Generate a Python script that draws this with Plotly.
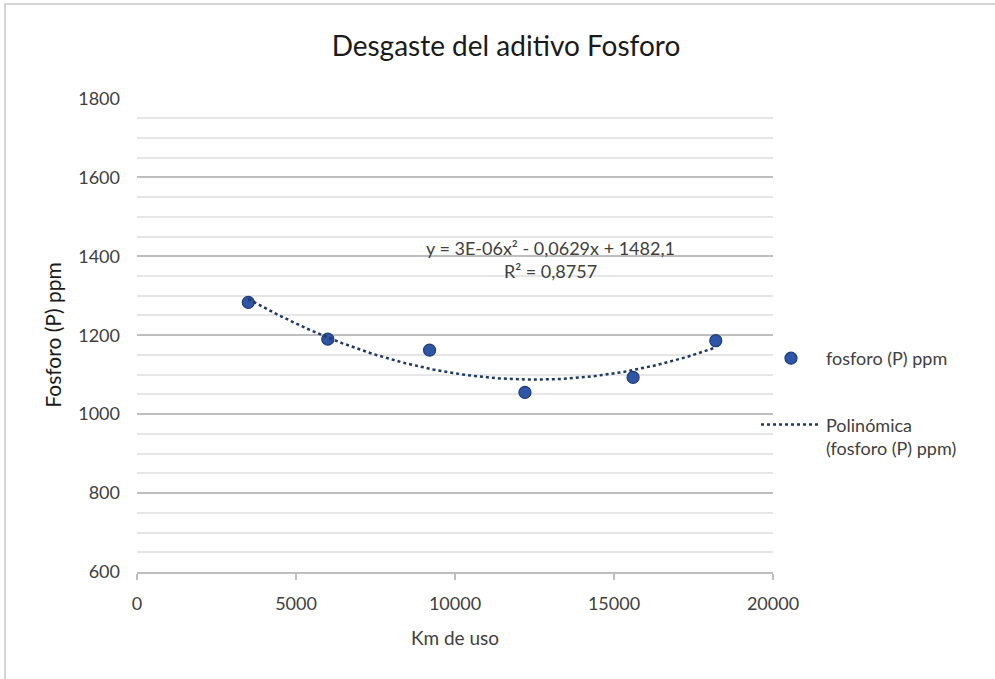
import numpy as np
import plotly.graph_objects as go

km = [3500, 6000, 9200, 12200, 15600, 18200]
fosforo = [1283, 1190, 1162, 1055, 1093, 1186]
series_name = "fosforo (P) ppm"
trend_name = "Polinómica<br>(fosforo (P) ppm)"
x_ticks = [0, 5000, 10000, 15000, 20000]
y_ticks = [600, 800, 1000, 1200, 1400, 1600, 1800]
eq_text = "y = 3E-06x² - 0,0629x + 1482,1<br>R² = 0,8757"

coef = np.polyfit(km, fosforo, 2)
xt = np.linspace(min(km), max(km), 120)
yt = np.polyval(coef, xt)

FONT = "Lato, 'Open Sans', sans-serif"
L, R, T, B = 137, 222, 98, 107
PW, PH = 995 - L - R, 679 - T - B

fig = go.Figure()
fig.add_trace(go.Scatter(
    x=km, y=fosforo, mode="markers", name=series_name, legendgroup="a",
    marker=dict(size=12, color="#2F56A6", line=dict(color="#1F3C78", width=1.2)),
))
fig.add_trace(go.Scatter(
    x=xt, y=yt, mode="lines", name=trend_name, legendgroup="b",
    line=dict(color="#1F3864", width=2.5, dash="dot"),
))
fig.add_annotation(x=13000, y=1391, xref="x", yref="y", text=eq_text,
                   showarrow=False, font=dict(family=FONT, size=18, color="#404040"),
                   align="center")
fig.add_shape(type="rect", xref="paper", yref="paper",
              x0=(5 - L) / PW, x1=(1200 - L) / PW,
              y0=(T + PH - 800) / PH, y1=(T + PH - 4) / PH,
              line=dict(color="#c8c8c8", width=1.5), fillcolor="rgba(0,0,0,0)", layer="below")
fig.update_layout(
    width=995, height=679,
    margin=dict(l=L, r=R, t=T, b=B),
    paper_bgcolor="white", plot_bgcolor="white",
    title=dict(text="Desgaste del aditivo Fosforo", x=506 / 995, xanchor="center",
               y=1 - 46 / 679, yanchor="middle",
               font=dict(family=FONT, size=28, color="#1a1a1a")),
    font=dict(family=FONT, color="#404040"),
    showlegend=True,
    legend=dict(x=(756 - L) / PW, xanchor="left", y=(T + PH - 340) / PH, yanchor="top",
                font=dict(family=FONT, size=18, color="#404040"),
                bgcolor="rgba(0,0,0,0)", itemwidth=60, tracegroupgap=40, valign="top"),
    xaxis=dict(range=[0, 20000], tickvals=x_ticks, tickformat="d", showgrid=False, zeroline=False,
               showline=True, linecolor="#bfbfbf", linewidth=1.5,
               ticks="outside", tickcolor="#bfbfbf", ticklen=6, tickwidth=1.5,
               ticklabelstandoff=9,
               tickfont=dict(family=FONT, size=18, color="#404040"),
               title=dict(text="Km de uso", font=dict(family=FONT, size=19, color="#404040"),
                          standoff=18)),
    yaxis=dict(range=[600, 1801], tickvals=y_ticks, showgrid=True, gridcolor="#bfbfbf",
               gridwidth=1.5, zeroline=False, showline=False, ticks="",
               ticklabelstandoff=16,
               minor=dict(dtick=50, showgrid=True, gridcolor="#e6e6e6", gridwidth=1.5),
               tickfont=dict(family=FONT, size=18, color="#404040"),
               title=dict(text="Fosforo (P) ppm", font=dict(family=FONT, size=21, color="#1a1a1a"),
                          standoff=10)),
)
fig.write_html("out.html", config={"displayModeBar": False},
               post_script="document.body.style.margin='0';")
